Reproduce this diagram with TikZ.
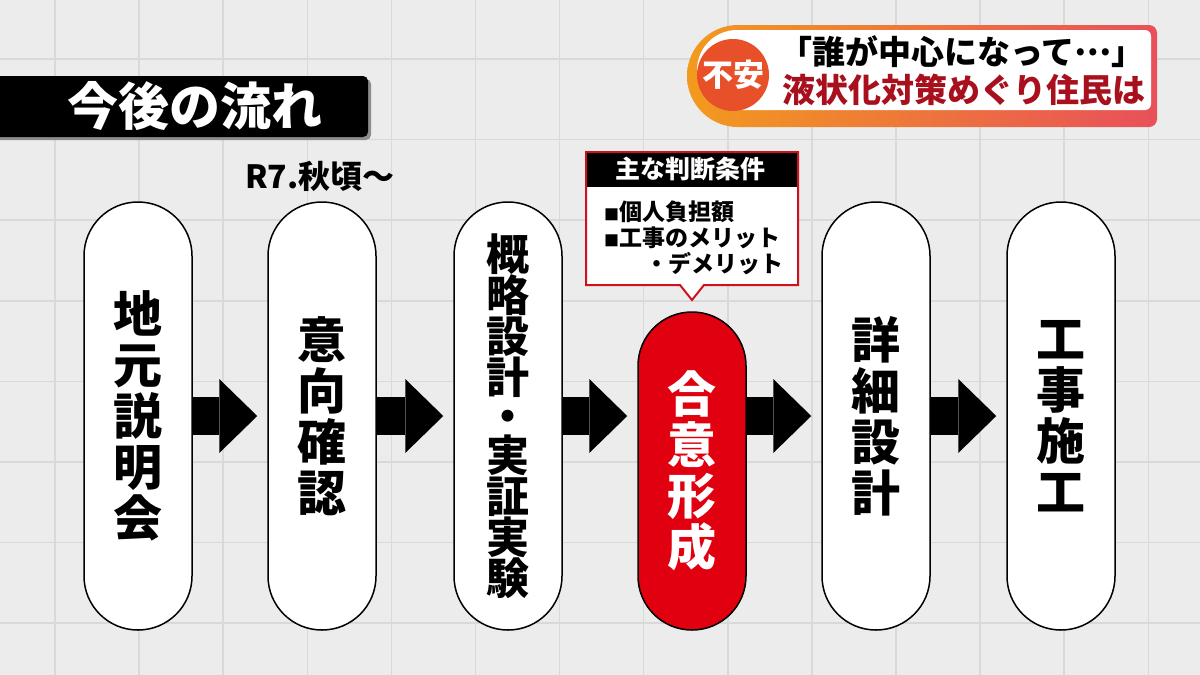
\documentclass[tikz,border=0pt]{standalone}
\usepackage{fontspec}
\setmainfont{Noto Sans CJK JP}
\usetikzlibrary{arrows.meta}
\definecolor{bggray}{HTML}{ECECEC}
\definecolor{gridgray}{HTML}{D9D9D9}
\definecolor{agreered}{HTML}{E00010}
\definecolor{calloutred}{HTML}{D0101A}
\definecolor{bannerred}{HTML}{A8101E}
\definecolor{bannerorange}{HTML}{F29A1E}
\definecolor{bannerpink}{HTML}{E8505A}
\definecolor{anxietyred}{HTML}{E8502A}

\begin{document}
\begin{tikzpicture}[
    x=1pt, y=-1pt,
    gridline/.style={gridgray, line width=1.5pt},
    stage/.style={rectangle, draw=black, line width=1.5pt, fill=white, rounded corners=53.9pt, minimum width=108pt, minimum height=428pt, inner sep=0pt, align=center, font=\bfseries\fontsize{49}{51}\selectfont},
    stagered/.style={stage, fill=agreered, text=white, minimum height=318pt},
    flow/.style={line width=38pt, -{Triangle[length=38pt, width=74pt, line width=0pt]}, shorten >=10pt},
    bannertext/.style={font=\bfseries\fontsize{33}{33}\selectfont, inner sep=0pt}
]

% Sfondo a griglia
\fill[bggray] (0,0) rectangle (1200,675);
\useasboundingbox (0,0) rectangle (1200,675);
\foreach \gx in {0,...,13} \draw[gridline] ({55+84.1*\gx},0) -- ({55+84.1*\gx},675);
\foreach \gy in {0,...,7} \draw[gridline] (0,{59+80.6*\gy}) -- (1200,{59+80.6*\gy});

% Titolo
\fill[black!45, rounded corners=5pt] (-10,79) rectangle (371,140);
\fill[black, rounded corners=5pt] (-10,76) rectangle (368,137);
\node[text=white, font=\bfseries\fontsize{51}{51}\selectfont, inner sep=0pt] (title) at (195,106) {今後の流れ};

% Banner in alto a destra
\shade[left color=bannerorange, right color=bannerpink]
    (738,25) [rounded corners=8pt] -- (1157,25) -- (1157,127) [sharp corners] -- (738,127) arc[start angle=90, end angle=270, radius=51] -- cycle;
\fill[white]
    (737,30) [rounded corners=6pt] -- (1151,30) -- (1151,110) [sharp corners] -- (737,110) arc[start angle=90, end angle=270, radius=40] -- cycle;
\node[circle, fill=anxietyred, minimum size=72pt, inner sep=0pt, text=white, font=\bfseries\fontsize{31}{31}\selectfont] (anxiety) at (733,75) {不安};
\node[bannertext] (headline) at (962,52) {「誰が中心になって\raisebox{0.3em}{…}」};
\node[bannertext, text=bannerred] (subline) at (964,90) {液状化対策めぐり住民は};

% Fasi
\node[stage] (briefing) at (138,416) {地\\元\\説\\明\\会};
\node[stage] (survey) at (322,416) {意\\向\\確\\認};
\node[stage, font=\bfseries\fontsize{43}{41}\selectfont] (design) at (508,416) {概\\略\\設\\計\\[-2pt]・\\[-2pt]実\\証\\実\\験};
\node[stagered] (consensus) at (692,471) {合\\意\\形\\成};
\node[stage] (detail) at (876,416) {詳\\細\\設\\計};
\node[stage] (works) at (1061,416) {工\\事\\施\\工};

% Data
\node[font=\bfseries\fontsize{32}{32}\selectfont, inner sep=0pt] (startdate) at (320,176) {R7.秋頃～};

% Frecce
\draw[flow] (briefing.east) -- (survey.west);
\draw[flow] (survey.east) -- (design.west);
\draw[flow] (design.east) -- (design.east -| consensus.west);
\draw[flow] (detail.west -| consensus.east) -- (detail.west);
\draw[flow] (detail.east) -- (works.west);

% Riquadro condizioni
\draw[calloutred, line width=2pt, fill=white] (586,152) -- (798,152) -- (798,285) -- (704,285) -- (692,300) -- (680,285) -- (586,285) -- cycle;
\fill[black] (587,153) rectangle (797,187);
\node[text=white, font=\bfseries\fontsize{25}{25}\selectfont, inner sep=0pt] (condhead) at (690,169) {主な判断条件};
\node[anchor=west, align=left, inner sep=0pt, font=\bfseries\fontsize{23}{26}\selectfont] (conditions) at (604,238)
    {{\fontsize{15}{15}\selectfont ■}個人負担額\\{\fontsize{15}{15}\selectfont ■}工事のメリット\\\hspace*{41pt}・デメリット};

\end{tikzpicture}
\end{document}
